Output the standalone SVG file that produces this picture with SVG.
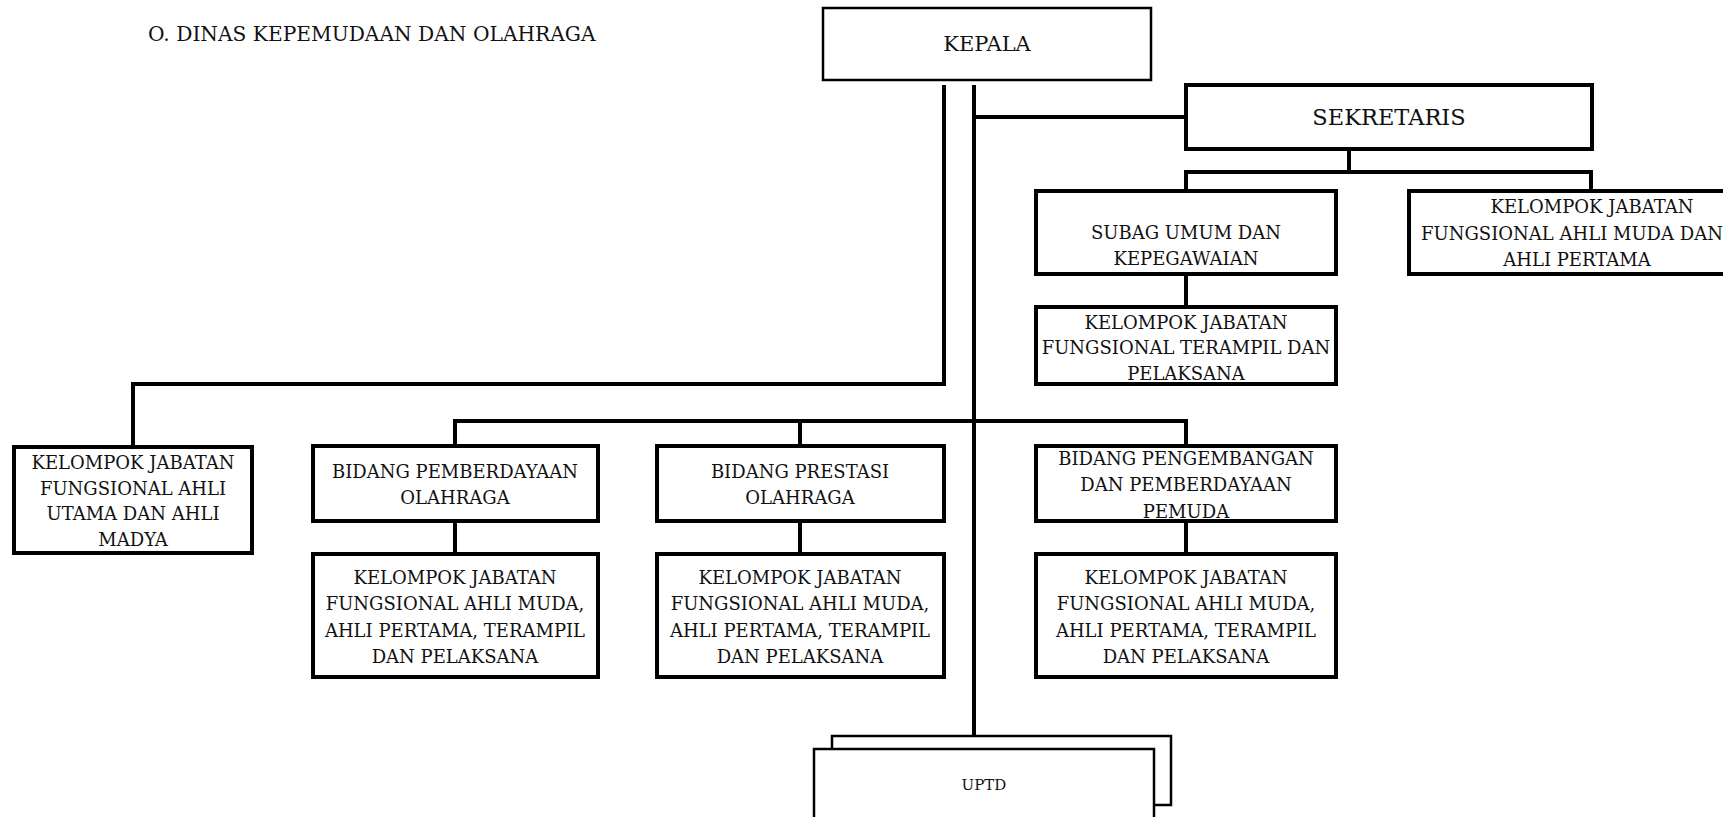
<svg xmlns="http://www.w3.org/2000/svg" width="1723" height="817" viewBox="0 0 1723 817">
<style>
text{font-family:"DejaVu Serif","Liberation Serif",serif;fill:#111;text-anchor:middle}
.t{font-size:18px}
.box{fill:#fff;stroke:#000;stroke-width:4}
.thin{fill:#fff;stroke:#000;stroke-width:2.5}
.ln{fill:none;stroke:#000;stroke-width:4}
</style>
<rect width="1723" height="817" fill="#fff"/>
<text x="148" y="41" style="font-size:20.2px;text-anchor:start">O. DINAS KEPEMUDAAN DAN OLAHRAGA</text>
<g id="connectors">
<path class="ln" d="M944 85 V384 H133 V447"/>
<path class="ln" d="M974 85 V736"/>
<path class="ln" d="M974 117 H1186"/>
<path class="ln" d="M1349 149 V172 M1186 191 V172 H1591 V191"/>
<path class="ln" d="M1186 274 V307"/>
<path class="ln" d="M455 446 V421 H1186 V446 M800 421 V446"/>
<path class="ln" d="M455 521 V554 M800 521 V554 M1186 521 V554"/>
</g>
<g id="kepala"><rect class="thin" x="823" y="8" width="328" height="72"/><text x="987" y="51" style="font-size:21px">KEPALA</text></g>
<g id="sekretaris"><rect class="box" x="1186" y="85" width="406" height="64"/><text x="1389" y="125" style="font-size:22.5px">SEKRETARIS</text></g>
<g id="subag"><rect class="box" x="1036" y="191" width="300" height="83"/><text class="t" x="1186" y="239">SUBAG UMUM DAN</text><text class="t" x="1186" y="265">KEPEGAWAIAN</text></g>
<g id="kjf-muda-sek"><rect class="box" x="1409" y="191" width="360" height="83"/><text class="t" x="1592" y="213">KELOMPOK JABATAN</text><text class="t" x="1572" y="240">FUNGSIONAL AHLI MUDA DAN</text><text class="t" x="1577" y="266">AHLI PERTAMA</text></g>
<g id="kjf-terampil"><rect class="box" x="1036" y="307" width="300" height="77"/><text class="t" x="1186" y="329">KELOMPOK JABATAN</text><text class="t" x="1186" y="354">FUNGSIONAL TERAMPIL DAN</text><text class="t" x="1186" y="380">PELAKSANA</text></g>
<g id="kjf-utama"><rect class="box" x="14" y="447" width="238" height="106"/><text class="t" x="133" y="469">KELOMPOK JABATAN</text><text class="t" x="133" y="495">FUNGSIONAL AHLI</text><text class="t" x="133" y="520">UTAMA DAN AHLI</text><text class="t" x="133" y="546">MADYA</text></g>
<g id="bidang-pemberdayaan"><rect class="box" x="313" y="446" width="285" height="75"/><text class="t" x="455" y="478">BIDANG PEMBERDAYAAN</text><text class="t" x="455" y="504">OLAHRAGA</text></g>
<g id="bidang-prestasi"><rect class="box" x="657" y="446" width="287" height="75"/><text class="t" x="800" y="478">BIDANG PRESTASI</text><text class="t" x="800" y="504">OLAHRAGA</text></g>
<g id="bidang-pengembangan"><rect class="box" x="1036" y="446" width="300" height="75"/><text class="t" x="1186" y="465">BIDANG PENGEMBANGAN</text><text class="t" x="1186" y="491">DAN PEMBERDAYAAN</text><text class="t" x="1186" y="518">PEMUDA</text></g>
<g id="kjf-pemberdayaan"><rect class="box" x="313" y="554" width="285" height="123"/><text class="t" x="455" y="584">KELOMPOK JABATAN</text><text class="t" x="455" y="610">FUNGSIONAL AHLI MUDA,</text><text class="t" x="455" y="637">AHLI PERTAMA, TERAMPIL</text><text class="t" x="455" y="663">DAN PELAKSANA</text></g>
<g id="kjf-prestasi"><rect class="box" x="657" y="554" width="287" height="123"/><text class="t" x="800" y="584">KELOMPOK JABATAN</text><text class="t" x="800" y="610">FUNGSIONAL AHLI MUDA,</text><text class="t" x="800" y="637">AHLI PERTAMA, TERAMPIL</text><text class="t" x="800" y="663">DAN PELAKSANA</text></g>
<g id="kjf-pengembangan"><rect class="box" x="1036" y="554" width="300" height="123"/><text class="t" x="1186" y="584">KELOMPOK JABATAN</text><text class="t" x="1186" y="610">FUNGSIONAL AHLI MUDA,</text><text class="t" x="1186" y="637">AHLI PERTAMA, TERAMPIL</text><text class="t" x="1186" y="663">DAN PELAKSANA</text></g>
<g id="uptd"><rect class="thin" x="832" y="736" width="339" height="69"/><rect class="thin" x="814" y="749" width="340" height="80"/><text x="984" y="790" style="font-size:15px">UPTD</text></g>
</svg>
